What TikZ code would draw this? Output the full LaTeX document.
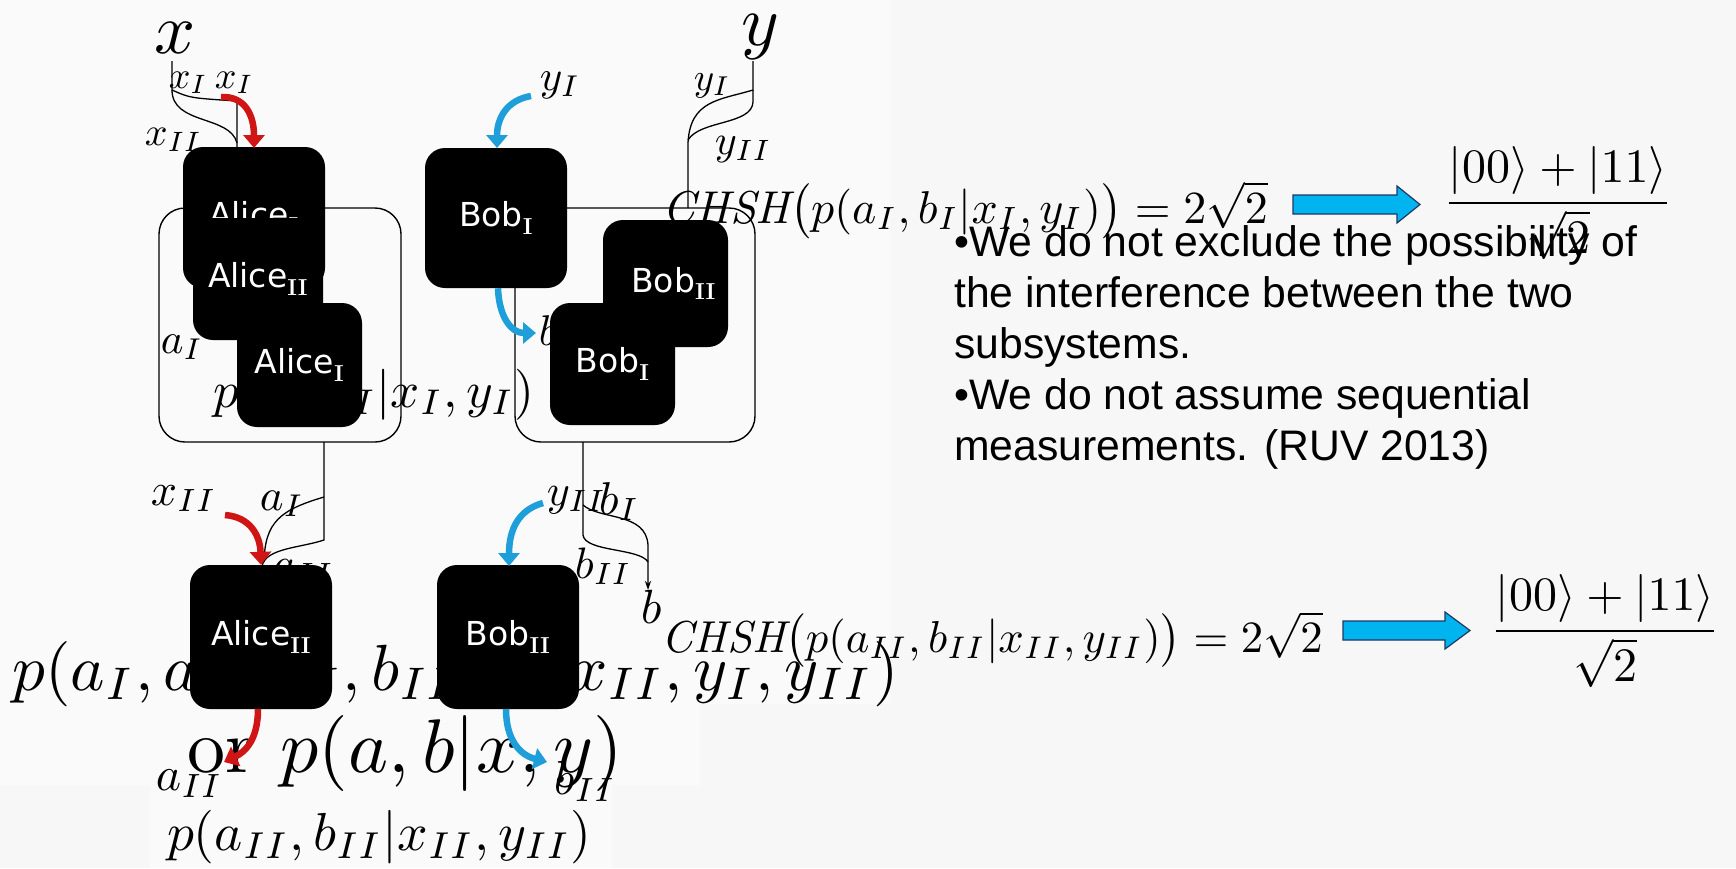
\documentclass[tikz,border=0pt]{standalone}
\usepackage{fontspec}
\newfontfamily\arialf{Liberation Sans}
\newfontfamily\dejaf{DejaVu Sans}
\newfontfamily\lmrf{Latin Modern Roman}
\newcommand{\rsub}[1]{\textsubscript{\lmrf\bfseries #1}}
\usetikzlibrary{arrows.meta}
\definecolor{bgc}{HTML}{F7F7F7}
\definecolor{imgc}{HTML}{FAFAFA}
\definecolor{redA}{HTML}{D01515}
\definecolor{blueA}{HTML}{1E9FDA}
\definecolor{cyanA}{HTML}{00B4F0}
\definecolor{navyA}{HTML}{1F3864}
\begin{document}
\begin{tikzpicture}[x=1pt,y=-1pt,
  bbox/.style={fill=black, rounded corners=20pt, inner sep=0pt, text=white,
    font=\dejaf\fontsize{33}{33}\selectfont},
  grp/.style={draw=black, line width=1.4pt, rounded corners=26pt},
  thin/.style={draw=black, line width=1.3pt},
  mlab/.style={inner sep=0pt, anchor=base west},
  redarr/.style={draw=redA, line width=6.5pt, -{Triangle[width=21pt,length=13pt]}},
  bluearr/.style={draw=blueA, line width=6.5pt, -{Triangle[width=21pt,length=13pt]}},
  blockarr/.style={fill=cyanA, draw=navyA, line width=1.2pt},
  bullets/.style={inner sep=0pt, anchor=base west, align=left,
    font=\arialf\fontsize{42.7}{51}\selectfont}]
\useasboundingbox (0,0) rectangle (1736,868);
\fill[bgc] (0,0) rectangle (1736,868);
\fill[imgc] (0,0) rectangle (890,704);
\fill[imgc] (0,704) rectangle (700,785);
\fill[imgc] (150,785) rectangle (612,868);

% --- background formulas (partly hidden by boxes)
\node[mlab, scale=5.1] (pI) at (212,407) {$p(a_I,b_I|x_I,y_I)$};
\node[mlab, scale=6.53] (pall) at (11,690) {$p(a_I,a_{II},b_I,b_{II}|x_I,x_{II},y_I,y_{II})$};
\node[mlab, scale=7.6] (por) at (186,772) {or $p(a,b|x,y)$};
\node[mlab, scale=5.35] (pII) at (166,850) {$p(a_{II},b_{II}|x_{II},y_{II})$};

% --- top labels
\node[inner sep=0pt, anchor=base, scale=7.2] (xx) at (175,53) {$x$};
\node[inner sep=0pt, anchor=base, scale=7.2] (yy) at (760,45) {$y$};
\node[mlab, scale=3.8] (xI1) at (168,88) {$x_I$};
\node[mlab, scale=3.8] (xI2) at (214,88) {$x_I$};
\node[mlab, scale=4.0] (xII1) at (144,145) {$x_{II}$};
\node[mlab, scale=4.3] (yI1) at (539,90) {$y_I$};
\node[mlab, scale=3.9] (yI2) at (693,90) {$y_I$};
\node[mlab, scale=4.2] (yII1) at (714,154) {$y_{II}$};
\node[mlab, scale=4.3] (aI1) at (160,353) {$a_I$};
\node[mlab, scale=4.3] (bI1) at (538,345) {$b_I$};

% --- lower labels
\node[mlab, scale=4.6] (xII2) at (150,505) {$x_{II}$};
\node[mlab, scale=4.5] (aI2) at (259,510) {$a_I$};
\node[mlab, scale=4.4] (aII2) at (272,578) {$a_{II}$};
\node[mlab, scale=4.4] (yII2) at (546,505) {$y_{II}$};
\node[mlab, scale=4.6] (bI2) at (598,514) {$b_I$};
\node[mlab, scale=4.4] (bII2) at (574,578) {$b_{II}$};
\node[mlab, scale=4.8] (bb) at (640,623) {$b$};
\node[mlab, scale=4.8] (aII3) at (155,790) {$a_{II}$};
\node[mlab, scale=4.8] (bII3) at (553,794) {$b_{II}$};

% --- CHSH lines, arrows, fractions
\node[mlab, scale=4.6] (chsh1) at (662,223) {$\mathit{CHSH}\bigl(p(a_I,b_I|x_I,y_I)\bigr)=2\sqrt{2}$};
\node[mlab, scale=4.47] (chsh2) at (661,652) {$\mathit{CHSH}\bigl(p(a_{II},b_{II}|x_{II},y_{II})\bigr)=2\sqrt{2}$};
\coordinate (ar1) at (1293,195);
\draw[blockarr] (ar1) -- (1397,195) -- (1397,186) -- (1420,204.5) -- (1397,223) -- (1397,214) -- (1293,214) -- cycle;
\coordinate (ar2) at (1343,621);
\draw[blockarr] (ar2) -- (1445,621) -- (1445,612) -- (1470,630.5) -- (1445,649) -- (1445,640) -- (1343,640) -- cycle;
\node[inner sep=0pt, anchor=base, scale=4.8] (frac1) at (1558,215) {$\displaystyle\frac{|00\rangle+|11\rangle}{\sqrt{2}}$};
\node[inner sep=0pt, anchor=base, scale=4.8] (frac2) at (1605,643) {$\displaystyle\frac{|00\rangle+|11\rangle}{\sqrt{2}}$};

% --- bullet text (anchor at baseline of last line)
\node[bullets] (txt) at (954,460) {\textbullet We do not exclude the possibility of\\the interference between the two\\subsystems.\\\textbullet We do not assume sequential\\measurements. (RUV 2013)};

% --- group outlines
\draw[grp] (159,208) rectangle (401,442);
\draw[grp] (515,208) rectangle (755,442);
\coordinate (gAb) at (324,442);
\coordinate (gBb) at (583,442);
\coordinate (gBt) at (688,208);

% --- split lines
\coordinate (xs) at (172,90);
\coordinate (xm) at (237,147);
\draw[thin] (172,61) -- (xs) .. controls (190,98) .. (237,101) -- (xm);
\draw[thin] (xs) .. controls (172,125) and (230,115) .. (237,143);
\coordinate (ys) at (753,90);
\draw[thin] (753,61) -- (ys) .. controls (720,100) and (690,100) .. (688,143) -- (gBt);
\draw[thin] (ys) -- (753,102) .. controls (752,125) and (700,120) .. (688,140);
\coordinate (am) at (262,566);
\draw[thin] (gAb) -- (324,540) .. controls (300,548) and (266,548) .. (am);
\draw[thin] (324,497) .. controls (280,510) and (265,522) .. (264,562);
\coordinate (bm) at (648,590);
\draw[thin] (gBb) -- (583,535) .. controls (585,552) and (640,548) .. (648,562);
\draw[thin, -{Stealth[length=9pt,width=6pt]}] (583,505) .. controls (600,520) and (646,512) .. (648,545) -- (bm);

% --- black boxes
\node[bbox, minimum width=142pt, minimum height=141pt] (A1) at (254,217.5) {\raisebox{-5pt}{Alice\rsub{I}}};
\node[bbox, minimum width=130pt, minimum height=122pt] (A2) at (258,279) {Alice\rsub{II}};
\node[bbox, minimum width=125pt, minimum height=124pt] (A3) at (299.5,365) {Alice\rsub{I}};
\node[bbox, minimum width=142pt, minimum height=140pt] (B1) at (496,218) {Bob\rsub{I}};
\node[bbox, minimum width=125pt, minimum height=127pt] (B2) at (665.5,283.5) {\hspace*{16pt}Bob\rsub{II}};
\node[bbox, minimum width=125pt, minimum height=122pt] (B3) at (612.5,364) {Bob\rsub{I}};
\node[bbox, minimum width=142pt, minimum height=144pt] (LA) at (261,637) {Alice\rsub{II}};
\node[bbox, minimum width=142pt, minimum height=144pt] (LB) at (508,637) {Bob\rsub{II}};

% --- curved arrows
\coordinate (r1s) at (221,97);
\draw[redarr] (r1s) .. controls (245,96) and (254,115) .. (254,148);
\coordinate (b1s) at (531,96);
\draw[bluearr] (b1s) .. controls (507,100) and (497,118) .. (497,148);
\coordinate (b4e) at (536,333);
\draw[bluearr] (B1.south) ++(2,0) .. controls (499,318) and (512,333) .. (b4e);
\coordinate (r2s) at (225,515);
\draw[redarr] (r2s) .. controls (250,517) and (260,535) .. (LA.north);
\coordinate (b2s) at (543,503);
\draw[bluearr] (b2s) .. controls (518,510) and (509,530) .. (509,566);
\coordinate (r3e) at (224,762);
\draw[redarr] (258,709) .. controls (258,740) and (245,752) .. (r3e);
\coordinate (b3e) at (547,762);
\draw[bluearr] (506,709) .. controls (506,740) and (520,755) .. (b3e);
\end{tikzpicture}
\end{document}
